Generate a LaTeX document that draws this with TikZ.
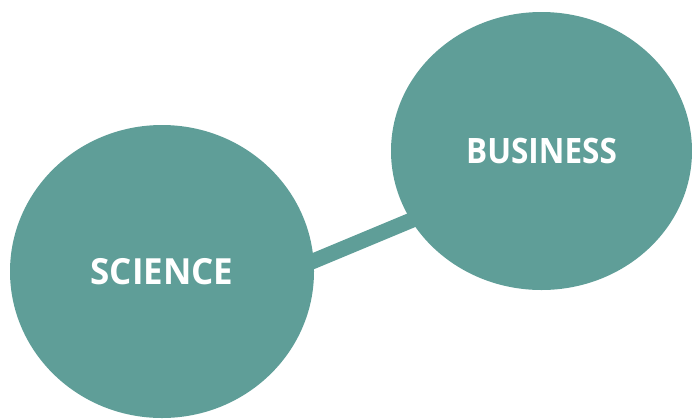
\documentclass[tikz,border=0pt]{standalone}
\usepackage{fontspec}
\setmainfont{Open Sans}
\newfontfamily\wideface{Open Sans}[FakeStretch=0.97]
\newfontfamily\narrowface{Open Sans}[FakeStretch=0.90]
\usetikzlibrary{shapes.geometric}
\definecolor{sage}{HTML}{5F9E98}

\begin{document}
\begin{tikzpicture}[x=1pt,y=-1pt,
  blob/.style={ellipse, fill=sage, draw=none, text=white, inner sep=0pt},
  link/.style={sage, line width=15.5pt, shorten <=-8pt, shorten >=-8pt}]
\useasboundingbox (0,0) rectangle (692,418);
\node[blob, minimum width=304pt, minimum height=293pt,
  font=\wideface\bfseries\fontsize{36}{43}\selectfont] (science) at (162,271.5) {SCIENCE};
\node[blob, minimum width=301pt, minimum height=278pt,
  font=\narrowface\bfseries\fontsize{35}{42}\selectfont] (business) at (541.5,151) {BUSINESS};
\draw[link] (science.4) -- (business.208);
\end{tikzpicture}
\end{document}
